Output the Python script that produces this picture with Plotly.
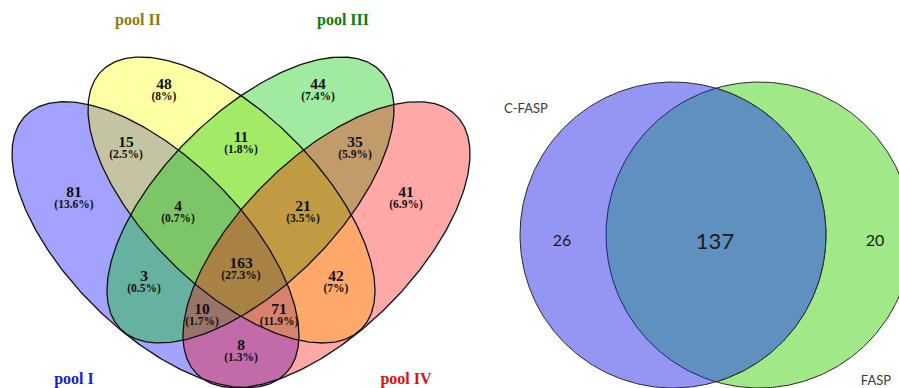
import numpy as np
import plotly.graph_objects as go

# ---- data -------------------------------------------------------------
# four-pool Venn: exclusive region counts and their share of the total
regions = ["I", "II", "III", "IV",
           "I&II", "II&III", "III&IV", "I&IV",
           "I&II&III", "II&III&IV", "I&III", "II&IV",
           "I&II&III&IV", "I&III&IV", "I&II&IV"]
counts = [81, 48, 44, 41,
          15, 11, 35, 8,
          4, 21, 3, 42,
          163, 10, 71]
percents = ["13.6%", "8%", "7.4%", "6.9%",
            "2.5%", "1.8%", "5.9%", "1.3%",
            "0.7%", "3.5%", "0.5%", "7%",
            "27.3%", "1.7%", "11.9%"]
pool_names = ["pool I", "pool II", "pool III", "pool IV"]

# two-method Venn
method_names = ["C-FASP", "FASP"]
method_only = [26, 20]
method_shared = 137

# ---- layout (pixel space, y grows downward) ---------------------------
W, H = 899, 388
label_xy = {
    "I": (74, 193), "II": (164, 85), "III": (318, 85), "IV": (406, 193),
    "I&II": (126, 143), "II&III": (241, 138), "III&IV": (355, 143),
    "I&IV": (241, 346), "I&II&III": (178, 207), "II&III&IV": (303, 207),
    "I&III": (144, 277), "II&IV": (336, 277), "I&II&III&IV": (241, 264),
    "I&III&IV": (202, 310), "I&II&IV": (279, 310),
}
pool_xy = [(74, 380), (138, 21), (343, 21), (406, 380)]
pool_colors = ["#1a1ad0", "#8c7a10", "#0a7d0a", "#e01010"]

# ellipse geometry: centre, semi-axes, tilt (degrees, y downward)
A_AX, B_AX, TILT = 183.1, 86.7, 44.84
ellipses = [
    dict(c=(155.5, 244.7), ang=TILT, fill="rgba(0,0,255,0.36)"),
    dict(c=(231.5, 200.0), ang=TILT, fill="rgba(255,255,0,0.36)"),
    dict(c=(250.5, 200.0), ang=180 - TILT, fill="rgba(0,200,0,0.37)"),
    dict(c=(326.5, 244.7), ang=180 - TILT, fill="rgba(255,0,0,0.34)"),
]


def ellipse_xy(c, a, b, ang, n=400):
    t = np.linspace(0, 2 * np.pi, n)
    th = np.radians(ang)
    x = c[0] + a * np.cos(t) * np.cos(th) - b * np.sin(t) * np.sin(th)
    y = c[1] + a * np.cos(t) * np.sin(th) + b * np.sin(t) * np.cos(th)
    return x, y


fig = go.Figure()

for e in ellipses:
    x, y = ellipse_xy(e["c"], A_AX, B_AX, e["ang"])
    fig.add_trace(go.Scatter(x=x, y=y, mode="lines", fill="toself",
                             fillcolor=e["fill"], line=dict(width=0)))
for e in ellipses:
    x, y = ellipse_xy(e["c"], A_AX, B_AX, e["ang"])
    fig.add_trace(go.Scatter(x=x, y=y, mode="lines",
                             line=dict(color="#111111", width=1.3)))

# region counts and percentages
serif = "Liberation Serif"
fig.add_trace(go.Scatter(
    x=[label_xy[r][0] for r in regions],
    y=[label_xy[r][1] for r in regions],
    mode="text", text=[f"<b>{c}</b>" for c in counts],
    textfont=dict(family=serif, size=15.5, color="#111111")))
fig.add_trace(go.Scatter(
    x=[label_xy[r][0] for r in regions],
    y=[label_xy[r][1] + 12.5 for r in regions],
    mode="text", text=[f"<b>({p})</b>" for p in percents],
    textfont=dict(family=serif, size=11.5, color="#111111")))
fig.add_trace(go.Scatter(
    x=[p[0] for p in pool_xy], y=[p[1] for p in pool_xy],
    mode="text", text=[f"<b>{n}</b>" for n in pool_names],
    textfont=dict(family=serif, size=16, color=pool_colors)))

# ---- two-circle Venn ---------------------------------------------------
R = 153.0
c_left, c_right = (673.0, 235.0), (759.0, 235.0)
t = np.linspace(0, 2 * np.pi, 400)


def circle(c):
    return c[0] + R * np.cos(t), c[1] + R * np.sin(t)


gx, gy = circle(c_right)
bx, by = circle(c_left)
fig.add_trace(go.Scatter(x=gx, y=gy, mode="lines", fill="toself",
                         fillcolor="#a0e888", line=dict(color="#2a2a2a", width=1)))
fig.add_trace(go.Scatter(x=bx, y=by, mode="lines", fill="toself",
                         fillcolor="#9595f3", line=dict(color="#2a2a2a", width=1)))

# lens shared by both circles
half_d = (c_right[0] - c_left[0]) / 2
phi = np.arccos(half_d / R)
s1 = np.linspace(-phi, phi, 200)
s2 = np.linspace(np.pi + phi, np.pi - phi, 200)
lx = np.concatenate([c_left[0] + R * np.cos(s1), c_right[0] + R * np.cos(s2)])
ly = np.concatenate([c_left[1] + R * np.sin(s1), c_right[1] + R * np.sin(s2)])
fig.add_trace(go.Scatter(x=np.append(lx, lx[0]), y=np.append(ly, ly[0]),
                         mode="lines", fill="toself", fillcolor="#6090c0",
                         line=dict(width=0)))
fig.add_trace(go.Scatter(x=c_left[0] + R * np.cos(s1), y=c_left[1] + R * np.sin(s1),
                         mode="lines", line=dict(color="#2a2a2a", width=1)))
fig.add_trace(go.Scatter(x=c_right[0] + R * np.cos(s2), y=c_right[1] + R * np.sin(s2),
                         mode="lines", line=dict(color="#1c2470", width=1)))

sans = "Lato"
fig.add_trace(go.Scatter(
    x=[562, 875], y=[242, 242], mode="text",
    text=[str(v) for v in method_only],
    textfont=dict(family=sans, size=16, color="#1a1a1a")))
fig.add_trace(go.Scatter(
    x=[715], y=[243], mode="text", text=[str(method_shared)],
    textfont=dict(family=sans, size=22, color="#1a1a1a")))
fig.add_trace(go.Scatter(
    x=[526, 876], y=[110, 382], mode="text", text=method_names,
    textfont=dict(family=sans, size=13, color="#3a3a3a")))

fig.update_layout(
    width=W, height=H, margin=dict(l=0, r=0, t=0, b=0),
    paper_bgcolor="white", plot_bgcolor="white",
    showlegend=False, hovermode=False,
    xaxis=dict(range=[0, W], visible=False, fixedrange=True),
    yaxis=dict(range=[H, 0], visible=False, fixedrange=True),
)

fig.write_html("out.html")
